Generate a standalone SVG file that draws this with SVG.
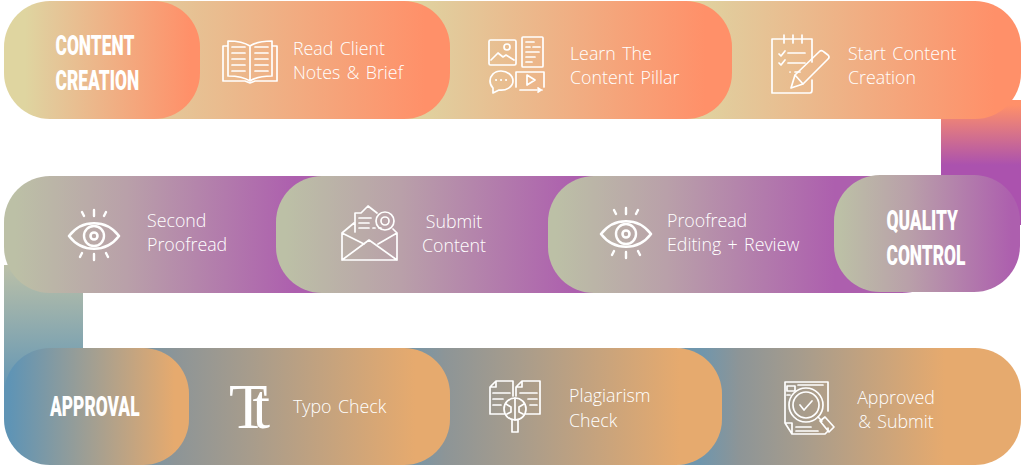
<svg xmlns="http://www.w3.org/2000/svg" width="1024" height="471" viewBox="0 0 1024 471">
<style>
.t{font-family:"Open Sans","Noto Sans",sans-serif;font-weight:300;font-size:17.8px;word-spacing:1.800px;fill:#fff}
.h{font-family:"Roboto","Liberation Sans",sans-serif;font-weight:900;font-size:28px;fill:#fff}
.i{fill:none;stroke:#fff;stroke-width:1.7;stroke-linecap:round;stroke-linejoin:round}
</style>
<defs>
<linearGradient id="o"><stop offset="0" stop-color="#dfd5a0"/><stop offset=".15" stop-color="#e3c99a"/><stop offset="1" stop-color="#ff9069"/></linearGradient>
<linearGradient id="o0" href="#o" gradientUnits="userSpaceOnUse" x1="25" x2="190" y1="0" y2="0"/>
<linearGradient id="o1" href="#o" gradientUnits="userSpaceOnUse" x1="110" x2="425" y1="0" y2="0"/>
<linearGradient id="o2" href="#o" gradientUnits="userSpaceOnUse" x1="410" x2="705" y1="0" y2="0"/>
<linearGradient id="o3" href="#o" gradientUnits="userSpaceOnUse" x1="690" x2="995" y1="0" y2="0"/>
<linearGradient id="p"><stop offset="0" stop-color="#bcc0a6"/><stop offset=".4" stop-color="#b9a0a9"/><stop offset="1" stop-color="#ad5fae"/></linearGradient>
<linearGradient id="p1" href="#p" gradientUnits="userSpaceOnUse" x1="15" x2="295" y1="0" y2="0"/>
<linearGradient id="p2" href="#p" gradientUnits="userSpaceOnUse" x1="285" x2="575" y1="0" y2="0"/>
<linearGradient id="p3" href="#p" gradientUnits="userSpaceOnUse" x1="555" x2="835" y1="0" y2="0"/>
<linearGradient id="p4" href="#p" gradientUnits="userSpaceOnUse" x1="840" x2="1012" y1="0" y2="0"/>
<linearGradient id="b"><stop offset="0" stop-color="#6f96ad"/><stop offset=".16" stop-color="#8d9597"/><stop offset=".42" stop-color="#a79c8c"/><stop offset="1" stop-color="#e6aa6e"/></linearGradient>
<linearGradient id="b1" href="#b" gradientUnits="userSpaceOnUse" x1="130" x2="415" y1="0" y2="0"/>
<linearGradient id="b2" href="#b" gradientUnits="userSpaceOnUse" x1="400" x2="680" y1="0" y2="0"/>
<linearGradient id="b3" href="#b" gradientUnits="userSpaceOnUse" x1="700" x2="945" y1="0" y2="0"/>
<linearGradient id="a" gradientUnits="userSpaceOnUse" x1="10" x2="175" y1="0" y2="0"><stop offset="0" stop-color="#5f94b5"/><stop offset="1" stop-color="#e6aa6e"/></linearGradient>
<linearGradient id="v1" gradientUnits="userSpaceOnUse" x1="0" y1="105" x2="0" y2="165"><stop offset="0" stop-color="#ff9069"/><stop offset="1" stop-color="#ab52ae"/></linearGradient>
<linearGradient id="v2" gradientUnits="userSpaceOnUse" x1="0" y1="265" x2="0" y2="395"><stop offset="0" stop-color="#bbc0a8"/><stop offset="1" stop-color="#5f94b5"/></linearGradient>
<g id="eye" class="i" style="stroke-width:2.6">
<path d="M-25 0C-12-17 12-17 25 0C12 17-12 17-25 0Z"/><circle r="10" stroke-width="2.4"/><circle r="3.500"/>
<path d="M0-26v6M-12-24l2 4M12-24l-2 4M0 18v6M-12 17l-2 4M12 17l2 4" style="stroke-width:2.4"/>
</g>
</defs>
<g id="connectors">
<rect x="941" y="100" width="80" height="125" fill="url(#v1)"/>
<rect x="4" y="265" width="79" height="135" fill="url(#v2)"/>
</g>
<g id="start-creation">
<rect x="640" y="1" width="381" height="118" rx="46" fill="url(#o3)"/>
<g class="i"><path d="M812 62V39H772V93H810Q812 93 812 90V80M784 35v8M793 35v8M802 35v8M788 53h17M788 63h17M790 72h.1M795 72h5M779 54l2 2 4-5M779 63l2 2 4-5"/><path d="M791 88l4-13L820 51Q822 50 824 52L828 55Q830 57 828 59L803 84ZM795 75l8 9"/></g>
<text class="t" x="848" y="60">Start Content</text><text class="t" x="848" y="84">Creation</text>
</g>
<g id="learn-pillar">
<rect x="350" y="1" width="382" height="118" rx="46" fill="url(#o2)"/>
<g class="i"><rect x="489" y="40" width="27" height="25" rx="1.500"/><circle cx="507" cy="47" r="3"/><path d="M491 60l7-7 5 4 3-2 8 5"/><rect x="522" y="37" width="21" height="30" rx="1"/><path d="M526 42h8M526 47h4M533 47h7M526 52h13M526 57h9M526 62h6"/>
<path d="M501 71C494 71 490 76 490 81C490 85 492 87 493 88L493 93L499 90C506 91 513 87 513 81C513 75 507 71 501 71Z"/><path d="M496 80h.1M501 80h.1M506 80h.1" stroke-width="2"/><path d="M516 87V72H544V87M527 75l8 5-8 5ZM520 90h22M538 88l3 2-3 2"/></g>
<text class="t" x="570" y="60">Learn The</text><text class="t" x="570" y="84">Content Pillar</text>
</g>
<g id="read-client">
<rect x="100" y="1" width="350" height="118" rx="46" fill="url(#o1)"/>
<g class="i"><path d="M250 46C244 42 235 41 228 41V76C236 76 244 77 250 81C256 77 264 76 272 76V41C265 41 256 42 250 46ZM250 46V81M227 46H223V81H245L250 83L255 81H277V46H273M232 47h13M232 53h13M232 59h13M232 65h13M232 71h13M255 47h13M255 53h13M255 59h13M255 65h13M255 71h13"/></g>
<text class="t" x="293" y="55">Read Client</text><text class="t" x="293" y="79">Notes &amp; Brief</text>
</g>
<g id="content-creation">
<rect x="4" y="1" width="196" height="118" rx="46" fill="url(#o0)"/>
<text class="h" transform="translate(55.500 55) scale(.62 1)">CONTENT</text>
<text class="h" transform="translate(55.500 90) scale(.62 1)">CREATION</text>
</g>
<g id="second-proofread">
<rect x="4" y="176" width="400" height="117" rx="46" fill="url(#p1)"/>
<use href="#eye" x="94" y="236"/>
<text class="t" x="147" y="227">Second</text><text class="t" x="147" y="251">Proofread</text>
</g>
<g id="submit-content">
<rect x="276" y="176" width="400" height="117" rx="46" fill="url(#p2)"/>
<g class="i"><path d="M354 223L342 233V260H397V233L393 229M342 233L364 244M397 233L378 244M342 260L369 240L397 260M355 232V213H361L368 206L377 213M359 218H371M359 223H369M359 228H369M373 228h2M379 228h2"/><circle cx="385" cy="221" r="9"/><circle cx="385" cy="221" r="4"/></g>
<text class="t" x="454" y="228" text-anchor="middle">Submit</text><text class="t" x="454" y="252" text-anchor="middle">Content</text>
</g>
<g id="proofread-editing">
<rect x="548" y="176" width="400" height="117" rx="46" fill="url(#p3)"/>
<use href="#eye" x="626" y="234"/>
<text class="t" x="667" y="227">Proofread</text><text class="t" x="667" y="251">Editing + Review</text>
</g>
<g id="quality-control">
<rect x="834" y="175" width="186" height="117" rx="46" fill="url(#p4)"/>
<text class="h" transform="translate(886.500 230) scale(.62 1)">QUALITY</text>
<text class="h" transform="translate(886.500 265) scale(.62 1)">CONTROL</text>
</g>
<g id="approved-submit">
<rect x="640" y="348" width="381" height="117" rx="46" fill="url(#b3)"/>
<g class="i"><path d="M785 423V382H828V411M785 423L792 434H825L828 431V428M785 423H792V434M787 386h8v5h-8ZM798 385h25M787 395h3M796 427h15M796 431h22"/><circle cx="806" cy="405" r="17"/><circle cx="806" cy="405" r="13"/><path d="M800 405l4 5 8-9M818 417l4 4M820 421l5-4 9 10-5 5Z"/></g>
<text class="t" x="896" y="404" text-anchor="middle">Approved</text><text class="t" x="896" y="428" text-anchor="middle">&amp; Submit</text>
</g>
<g id="plagiarism-check">
<rect x="350" y="348" width="372" height="117" rx="46" fill="url(#b2)"/>
<g class="i"><path d="M504 414H490V387L496 381H513V396M526 414H540V381H522L516 387V396M490 387H496V381M516 387H522V381M493 393h17M493 399h10M493 405h8M520 393h17M528 399h9M530 405h7"/><circle cx="515" cy="409" r="11"/><path d="M515 398v22M506 404l5 3V412l-4 2M524 404l-5 3V412l4 2M512 420v12h6v-12"/></g>
<text class="t" x="569" y="402">Plagiarism</text><text class="t" x="569" y="427">Check</text>
</g>
<g id="typo-check">
<rect x="100" y="348" width="350" height="117" rx="46" fill="url(#b1)"/>
<text x="229" y="428" font-family="Liberation Serif,serif" font-size="63" letter-spacing="-15" fill="#fff">Tt</text>
<text class="t" x="293" y="413">Typo Check</text>
</g>
<g id="approval">
<rect x="4" y="348" width="185" height="117" rx="46" fill="url(#a)"/>
<text class="h" transform="translate(50 416) scale(.62 1)">APPROVAL</text>
</g>
</svg>
